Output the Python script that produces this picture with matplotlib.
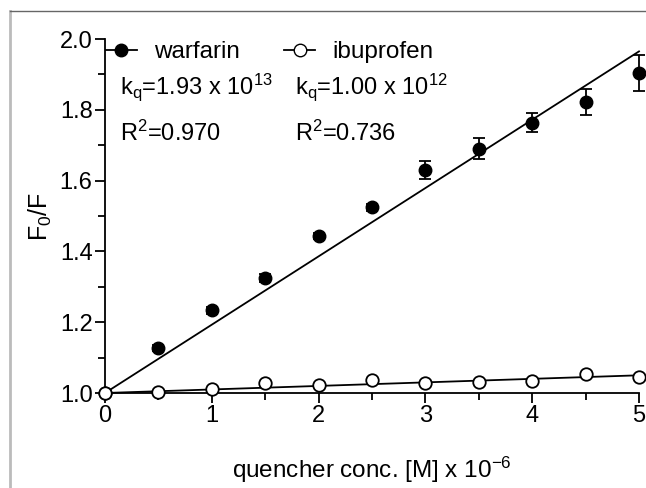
import numpy as np
import matplotlib
matplotlib.use('Agg')
import matplotlib.pyplot as plt
from matplotlib.lines import Line2D

plt.rcParams['font.family'] = ['Liberation Sans', 'DejaVu Sans']
plt.rcParams['mathtext.default'] = 'regular'

# 数据
conc = [0, 0.5, 1, 1.5, 2, 2.5, 3, 3.5, 4, 4.5, 5]
warfarin = [1.0, 1.127, 1.234, 1.325, 1.443, 1.525, 1.630, 1.690, 1.763, 1.822, 1.904]
warfarin_err = [0, 0.008, 0.010, 0.012, 0.008, 0.010, 0.025, 0.030, 0.027, 0.038, 0.052]
ibuprofen = [1.0, 1.003, 1.010, 1.029, 1.023, 1.037, 1.027, 1.030, 1.034, 1.054, 1.046]
fit_x = [0, 5]
warfarin_fit = [1.0, 1.965]
ibuprofen_fit = [1.0, 1.05]

fig = plt.figure(figsize=(6.46, 4.88), dpi=100)
ax = fig.add_axes([105/646, 1-393/488, 534/646, 354/488])

ax.plot(fit_x, warfarin_fit, color='black', lw=1.3, clip_on=False, zorder=2)
ax.plot(fit_x, ibuprofen_fit, color='black', lw=1.3, clip_on=False, zorder=2)
ax.errorbar(conc, warfarin, yerr=warfarin_err, fmt='o', color='black', ms=9,
            capsize=4, elinewidth=1.3, capthick=1.3, clip_on=False, zorder=3)
ax.plot(conc, ibuprofen, 'o', mfc='white', mec='black', mew=1.3, ms=9,
        clip_on=False, zorder=4)

ax.set_xlim(0, 5)
ax.set_ylim(1.0, 2.0)
ax.set_xticks([0, 1, 2, 3, 4, 5])
ax.set_xticks(np.arange(0.5, 5, 1), minor=True)
ax.set_yticks([1.0, 1.2, 1.4, 1.6, 1.8, 2.0])
ax.set_yticks(np.arange(1.1, 2.0, 0.2), minor=True)
ax.set_yticklabels(['1.0', '1.2', '1.4', '1.6', '1.8', '2.0'])
ax.tick_params(which='major', length=7, width=1.3, labelsize=17, pad=2)
ax.tick_params(which='minor', length=5, width=1.3)
for s in ['top', 'right']:
    ax.spines[s].set_visible(False)
for s in ['left', 'bottom']:
    ax.spines[s].set_linewidth(1.3)

ax.set_xlabel('quencher conc. [M] x 10$^{-6}$', fontsize=17.5, labelpad=20)
ax.set_ylabel('F$_0$/F', fontsize=18, labelpad=4)

h1 = Line2D([], [], color='black', marker='o', ms=9, lw=1.3)
h2 = Line2D([], [], color='black', marker='o', ms=9, mfc='white', lw=1.3)
ax.legend([h1, h2], ['warfarin', 'ibuprofen'], ncol=2, frameon=False, fontsize=17.5,
          loc='upper left', bbox_to_anchor=(-0.04, 1.055), handlelength=1.3,
          handletextpad=0.7, columnspacing=1.8)

ax.text(120/646, 1-87/488, 'k$_q$=1.93 x 10$^{13}$', transform=fig.transFigure,
        fontsize=17, va='center')
ax.text(120/646, 1-133/488, 'R$^2$=0.970', transform=fig.transFigure,
        fontsize=17, va='center')
ax.text(295/646, 1-87/488, 'k$_q$=1.00 x 10$^{12}$', transform=fig.transFigure,
        fontsize=17, va='center')
ax.text(295/646, 1-133/488, 'R$^2$=0.736', transform=fig.transFigure,
        fontsize=17, va='center')

# 边框
fig.add_artist(Line2D([10/646, 10/646], [0, 1-11/488], color='#bbbbbb', lw=2))
fig.add_artist(Line2D([10/646, 1], [1-11/488, 1-11/488], color='#666666', lw=1))

fig.savefig('out.png', dpi=100)
